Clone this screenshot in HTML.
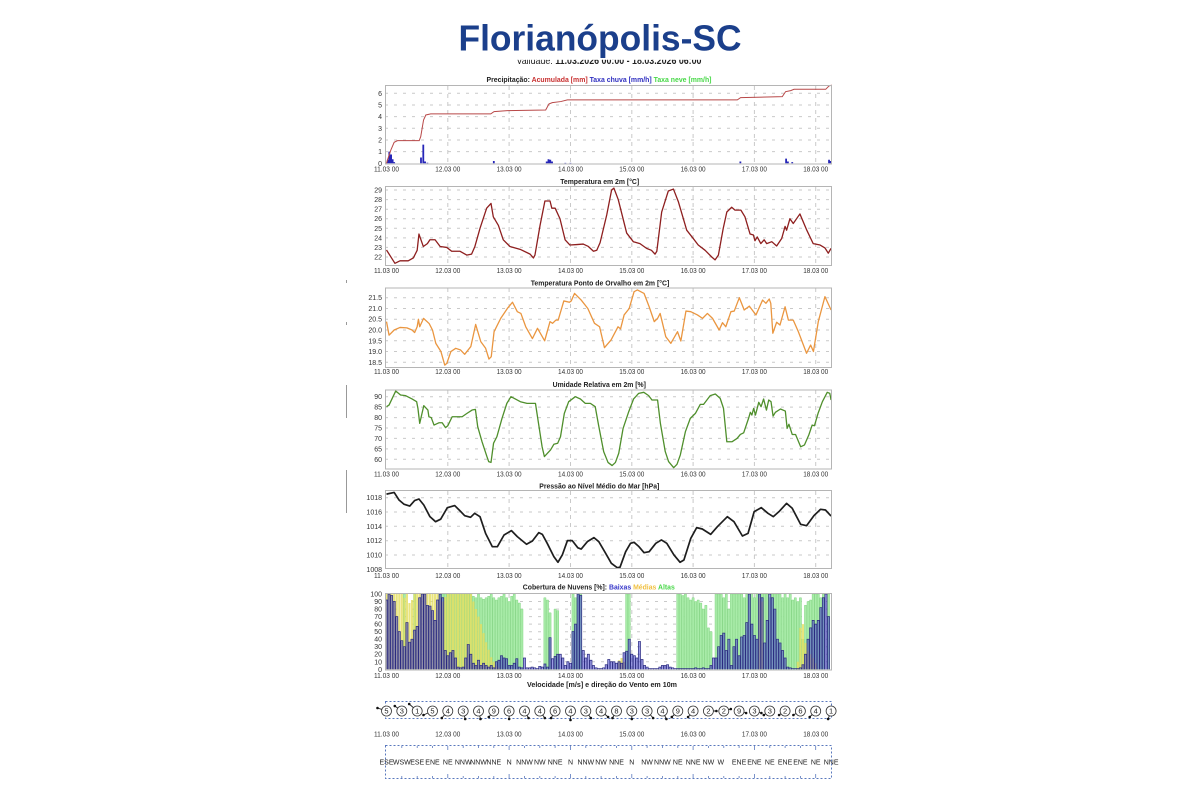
<!DOCTYPE html>
<html><head><meta charset="utf-8"><title>Florianópolis-SC</title>
<style>html,body{margin:0;padding:0;background:#fff}svg{display:block;font-family:"Liberation Sans",sans-serif}</style>
</head><body>
<svg width="1200" height="800" viewBox="0 0 1200 800" xmlns="http://www.w3.org/2000/svg">
<rect width="1200" height="800" fill="#fff"/>
<!-- validity line (partly covered) -->
<text x="609" y="64" text-anchor="middle" font-size="10.5" fill="#222" textLength="185" lengthAdjust="spacingAndGlyphs">Validade: <tspan font-weight="bold">11.03.2026 00:00 - 18.03.2026 06:00</tspan></text>
<rect x="0" y="0" width="1200" height="59.8" fill="#fff"/>
<text x="600" y="50.5" text-anchor="middle" font-size="36" font-weight="bold" fill="#1b3f8b" textLength="283" lengthAdjust="spacingAndGlyphs">Florianópolis-SC</text>

<!-- artifacts left -->
<g stroke="#999" stroke-width="1">
<path d="M346.5 280V283M346.5 322V325M346.5 385V418M346.5 470V513"/>
</g>

<!-- panel titles -->
<g font-size="7.5" font-weight="bold" text-anchor="middle" fill="#222">
<text x="599" y="82" textLength="225" lengthAdjust="spacingAndGlyphs">Precipitação: <tspan fill="#c83030">Acumulada [mm]</tspan> <tspan fill="#3030c0">Taxa chuva [mm/h]</tspan> <tspan fill="#48d848">Taxa neve [mm/h]</tspan></text>
<text x="599.7" y="184" textLength="79" lengthAdjust="spacingAndGlyphs">Temperatura em 2m [°C]</text>
<text x="600" y="285.5" textLength="138.6" lengthAdjust="spacingAndGlyphs">Temperatura Ponto de Orvalho em 2m [°C]</text>
<text x="599.3" y="387" textLength="93.3" lengthAdjust="spacingAndGlyphs">Umidade Relativa em 2m [%]</text>
<text x="599.3" y="488.5" textLength="120" lengthAdjust="spacingAndGlyphs">Pressão ao Nível Médio do Mar [hPa]</text>
<text x="598.8" y="589.5" textLength="152" lengthAdjust="spacingAndGlyphs">Cobertura de Nuvens [%]: <tspan fill="#3535c8">Baixas</tspan> <tspan fill="#f0c040">Médias</tspan> <tspan fill="#48d848">Altas</tspan></text>
<text x="602" y="687" textLength="150" lengthAdjust="spacingAndGlyphs">Velocidade [m/s] e direção do Vento em 10m</text>
</g>

<!-- grids -->
<g stroke="#c9c9c9" stroke-width="1" fill="none" stroke-dasharray="3,6">
<path d="M385 151.6H832M385 140H832M385 128.3H832M385 116.6H832M385 105H832M385 93.3H832"/>
<path d="M385 247.4H832M385 237.9H832M385 228.3H832M385 218.7H832M385 209.2H832M385 199.6H832M385 190H832M385 257H832"/>
<path d="M385 362.3H832M385 351.5H832M385 340.8H832M385 330H832M385 319.2H832M385 308.5H832M385 297.7H832"/>
<path d="M385 459.3H832M385 448.9H832M385 438.4H832M385 428H832M385 417.6H832M385 407.1H832M385 396.7H832"/>
<path d="M385 555H832M385 540.7H832M385 526.3H832M385 512H832M385 497.7H832"/>
<path d="M385 661.8H832M385 654.2H832M385 646.7H832M385 639.2H832M385 631.7H832M385 624.1H832M385 616.6H832M385 609.1H832M385 601.5H832"/>
</g>
<g stroke="#c9c9c9" stroke-width="1" fill="none" stroke-dasharray="4,4">
<path d="M447.8 86V164M509.1 86V164M570.5 86V164M631.8 86V164M693.1 86V164M754.4 86V164M815.7 86V164"/>
<path d="M447.8 187V266M509.1 187V266M570.5 187V266M631.8 187V266M693.1 187V266M754.4 187V266M815.7 187V266"/>
<path d="M447.8 288V368M509.1 288V368M570.5 288V368M631.8 288V368M693.1 288V368M754.4 288V368M815.7 288V368"/>
<path d="M447.8 390V469M509.1 390V469M570.5 390V469M631.8 390V469M693.1 390V469M754.4 390V469M815.7 390V469"/>
<path d="M447.8 491V568M509.1 491V568M570.5 491V568M631.8 491V568M693.1 491V568M754.4 491V568M815.7 491V568"/>
<path d="M447.8 594V670M509.1 594V670M570.5 594V670M631.8 594V670M693.1 594V670M754.4 594V670M815.7 594V670"/>
</g>

<!-- PRECIP data -->
<g transform="matrix(2.555 0 0 -11.67 386.5 163.3)">
<path fill="#2626b8" d="M0.15 0V0.3H0.85V0ZM0.75 0V1.0H1.45V0ZM1.45 0V0.75H2.15V0ZM2.05 0V0.35H2.75V0ZM2.65 0V0.1H3.35V0ZM13.15 0V0.5H13.85V0ZM14.05 0V1.6H14.75V0ZM14.75 0V0.15H15.45V0ZM15.65 0V0.05H16.35V0ZM41.65 0V0.2H42.35V0ZM62.35 0V0.15H63.05V0ZM63.05 0V0.35H63.75V0ZM63.75 0V0.3H64.45V0ZM64.45 0V0.15H65.15V0ZM69.65 0V0.04H70.35V0ZM71.65 0V0.04H72.35V0ZM138.15 0V0.15H138.85V0ZM156.05 0V0.4H156.75V0ZM156.75 0V0.15H157.45V0ZM158.45 0V0.1H159.15V0ZM172.85 0V0.3H173.55V0ZM173.55 0V0.2H174.25V0Z"/>
<polyline vector-effect="non-scaling-stroke" fill="none" stroke="#b84848" stroke-width="1" points="0,0 0.4,0.3 1.7,1.14 3,1.8 4.3,1.94 12.8,1.94 13.4,2.29 14.5,3.71 15.4,4.14 17.3,4.23 40.8,4.23 42.1,4.43 47.3,4.51 62.3,4.57 63.6,5.09 64.9,5.2 68.2,5.29 70.8,5.43 137.3,5.43 138.6,5.63 154.9,5.71 156.2,6.14 158.2,6.23 159.5,6.34 171.9,6.34 173.2,6.63 174.3,6.7"/>
</g>

<!-- TEMP -->
<g transform="matrix(2.555 0 0 -9.57 386.5 467.54)">
<polyline vector-effect="non-scaling-stroke" fill="none" stroke="#8e1f1f" stroke-width="1.3" stroke-linejoin="round" points="0,22.73 1.5,22.1 3.3,21.34 5.3,21.6 8.5,21.6 10.5,21.9 12,22.7 12.7,24.4 14.4,23.1 16,23.4 17,23.8 19,23.8 21,23.1 23.6,23.0 25.5,22.6 28.8,22.6 31.4,22.2 33.3,22.3 34.6,23.1 36.6,25 39.2,27.1 40.9,27.6 41.8,26.2 43.8,25.3 45.7,23.8 48.3,23.1 52.3,22.8 56.2,22.3 57.5,21.9 58.1,22.2 60.1,25.3 62,27.85 64,27.85 64.7,27.1 66,27.1 67.9,26 69.9,23.8 71.8,23.25 74.5,23.3 77,23.35 79,23.1 81,22.6 82.3,22.7 83.6,23.5 86.2,26.4 88.1,29 89,29.2 90.7,28 94,24.5 96.6,23.6 99.2,23.4 101.8,22.9 103.7,22.7 105.1,22.3 105.8,22.6 107.7,26.7 110.3,28.9 112.3,29.1 114.2,27.8 117.5,24.8 120,23.95 122,23.25 124.7,22.7 127.3,22 128.6,21.7 129.9,22.2 131.8,25 133.2,26.7 135.1,27.2 136.4,26.9 138.7,26.9 140.3,26.2 142.3,24.4 143.6,24.3 144.2,23.7 145.1,24.1 146.5,23.4 147.8,23.8 148.8,23.4 150.8,23.6 152.7,23.15 154.7,23.95 156,25.2 156.6,24.8 157.9,26 159.2,25.5 161.8,26.5 164.5,24.8 167,23.4 169.7,23.25 171.6,22.95 172.9,22.4 174,22.9"/>
</g>

<!-- DEW -->
<g transform="matrix(2.555 0 0 -21.53 386.5 760.6)">
<polyline vector-effect="non-scaling-stroke" fill="none" stroke="#ea9640" stroke-width="1.3" stroke-linejoin="round" points="0,20.39 1,19.76 3,20.0 5.3,20.12 8,20.1 10,20.0 11,19.88 12,20.15 12.5,20.5 13,20.15 14.5,20.54 16.7,20.3 18,20.0 19.3,19.38 21.3,19.0 22.8,18.37 23.6,18.45 25.2,19.0 27.1,19.15 29,19.07 30.6,18.87 33,19.23 34.9,20.26 36.9,19.46 38.8,19.15 40.1,18.65 41,18.76 42.1,19.92 44.7,20.54 47.3,21.0 49.3,21.29 51.2,20.85 52.6,20.77 54.5,20.15 57.1,19.6 59.1,20.08 61.9,19.5 64,20.39 65,20.31 66.3,20.46 67.2,20.46 69.4,21.35 71.6,21.29 72.3,21.35 73.6,21.7 76.2,21.39 78.8,21.0 81.4,20.31 83.4,20.15 85.3,19.18 87.9,19.54 90.6,20.15 91.6,20.05 93,20.7 95,21.0 96.9,21.78 98.2,21.86 100.8,21.7 102.8,21.08 104.8,20.39 106.1,20.54 107.1,20.77 109.3,19.69 111.3,19.38 113.9,19.92 115.2,19.49 117.2,20.88 119.1,20.85 121.7,20.7 123.7,20.54 125.6,20.77 127.6,20.54 130.2,20.0 131.5,20.34 132.8,20.15 134.8,20.85 136.1,20.88 138.1,21.5 140,20.93 142,21.11 144.6,20.7 147.2,21.39 148.5,21.24 149.8,21.44 150.4,21.24 151.2,19.85 152.7,20.36 154,20.23 156,21.08 157.3,20.46 159.2,20.46 161.2,19.92 164.4,18.92 166,19.3 167.1,19.0 169,20.39 171.6,21.55 174,20.93"/>
</g>

<!-- HUMIDITY -->
<g transform="matrix(2.555 0 0 -2.087 386.5 584.52)">
<polyline vector-effect="non-scaling-stroke" fill="none" stroke="#4f8f2c" stroke-width="1.3" stroke-linejoin="round" points="0,85.2 1,86 3.6,92.7 5.5,90.8 7.5,90.5 10,88.9 11.8,87.6 12.3,84.4 13,77.2 14.6,85.7 16.2,83.6 16.6,80.4 17.5,80 18.6,76.4 20.5,77.5 21.8,77.5 23.1,75.2 24,76.1 25.7,80.4 29.6,80.4 31.5,82 33.5,83.6 34.8,83.9 35.7,75.6 37.4,68.4 39.3,61.3 40,58.9 40.9,58.5 41.9,67.7 43.2,70.8 45.2,79.6 47.1,86.8 48.7,90 50.4,88.9 52.4,87.6 55,86.8 58.3,86.8 59.6,76.4 60.9,66 61.8,61.3 64.2,64.5 65.5,67.2 67,67.7 68.1,70.8 69.6,82 71.3,87.6 73.9,90 75.9,88.9 77.8,86.8 79.8,86.8 81.7,85.2 83,76.4 85,63.7 86.7,58.5 88.3,57 89.6,58.5 90.9,62.9 92.6,74.8 94.8,82.8 96.7,88.9 98.7,91.6 100.7,92.1 102.6,90.5 103.9,88.4 106.1,88.4 107.2,77.2 109.1,63.7 110.4,58.9 112.4,56 113.7,57.6 115,62.1 117,73.3 118.9,79.6 120.9,82 122.8,86.3 124.1,86.3 126.7,90.5 128.7,91.3 130.6,89.2 131.9,84.4 133.2,68.4 135.2,68.4 137.2,70 138.5,71.9 139.8,72.7 141.7,79.6 142.4,82.5 143,81.2 143.7,84.4 144.4,81.2 145.7,87.3 146.6,85.2 147.6,88.9 148.7,83.6 149.6,88.4 150.5,87.6 151.3,80.7 152.2,82.5 154.2,84.1 156.1,83.1 156.8,74.8 157.5,76.8 158.8,71.9 160.1,71.9 162.1,66 163.6,66.9 165.3,71.7 166.6,76.4 167.5,76.1 168.9,82 170.6,87.6 172.5,92.1 173.5,91.6 174,88.4"/>
</g>

<!-- PRESSURE -->
<g transform="matrix(2.555 0 0 -7.16 386.5 626.58)">
<polyline vector-effect="non-scaling-stroke" fill="none" stroke="#1e1e1e" stroke-width="1.7" stroke-linejoin="round" points="0,18.5 3,18.73 4.9,17.68 6.8,17.1 9.1,16.84 11,17.6 12.7,17.82 14.6,16.98 17,15.35 19.2,14.65 21.2,15.0 23.8,16.6 26.7,16.9 28.7,16.19 30.6,15.49 32.9,15.26 34.5,15.82 36.6,15.35 38.8,13.0 41.4,11.16 43.4,11.16 46,12.79 48.9,13.4 51.2,12.56 54.8,11.5 57.1,11.95 59.6,13.12 61,12.88 62.9,11.63 65.5,9.77 67.1,8.98 68.8,10.0 70.8,12.0 72.7,12.0 74.9,11.0 76.2,10.83 78.6,11.86 81.2,12.42 83.1,11.86 85.4,10.46 88,8.83 90.3,8.22 91.4,8.3 93.6,10.46 95.5,11.63 96.9,11.77 98.8,11.16 100.8,10.32 102.8,10.46 105.4,11.63 107.6,12.1 109.7,11.63 112.5,10.0 114.9,8.98 116.4,9.3 119.1,12.33 121.4,13.82 123.6,13.63 126.9,12.88 129.5,13.95 133.4,15.35 136,14.65 139.3,12.65 141.5,13.02 143.9,16.05 146.7,16.61 149.3,15.82 151.4,15.35 153.6,16.05 156.6,17.21 158.8,16.52 162.1,14.28 164.4,14.09 167.3,15.49 169.9,16.38 171.8,16.28 174,15.44"/>
</g>

<!-- CLOUDS -->
<g transform="matrix(2.555 0 0 -0.753 386.5 669.3)">
<path vector-effect="non-scaling-stroke" fill="#a9eca9" stroke="#86d686" stroke-width="0.5" d="M6.58 0v100h.84v-100M10.58 0v100h.84v-100M20.58 0v100h.84v-100m.16 0v100h.84v-100m.16 0v100h.84v-100m.16 0v100h.84v-100m.16 0v100h.84v-100m.16 0v100h.84v-100m.16 0v100h.84v-100m.16 0v100h.84v-100m.16 0v100h.84v-100m.16 0v100h.84v-100m.16 0v100h.84v-100m.16 0v100h.84v-100m.16 0v100h.84v-100m.16 0v97h.84v-97m.16 0v95h.84v-95m.16 0v100h.84v-100m.16 0v95h.84v-95m.16 0v93h.84v-93m.16 0v95h.84v-95m.16 0v97h.84v-97m.16 0v100h.84v-100m.16 0v95h.84v-95m.16 0v92h.84v-92m.16 0v95h.84v-95m.16 0v97h.84v-97m.16 0v100h.84v-100m.16 0v95h.84v-95m.16 0v90h.84v-90m.16 0v97h.84v-97m.16 0v100h.84v-100m.16 0v92h.84v-92m.16 0v88h.84v-88m.16 0v80h.84v-80M61.58 0v95h.84v-95m.16 0v92h.84v-92m.16 0v75h.84v-75M65.58 0v80h.84v-80m.16 0v78h.84v-78M72.58 0v100h.84v-100m.16 0v95h.84v-95m.16 0v100h.84v-100m.16 0v100h.84v-100M93.58 0v100h.84v-100m.16 0v100h.84v-100M113.58 0v100h.84v-100m.16 0v100h.84v-100m.16 0v98h.84v-98m.16 0v100h.84v-100m.16 0v95h.84v-95m.16 0v92h.84v-92m.16 0v95h.84v-95m.16 0v90h.84v-90m.16 0v92h.84v-92m.16 0v88h.84v-88m.16 0v80h.84v-80m.16 0v85h.84v-85m.16 0v55h.84v-55m.16 0v50h.84v-50M128.58 0v100h.84v-100m.16 0v100h.84v-100m.16 0v100h.84v-100m.16 0v95h.84v-95m.16 0v100h.84v-100m.16 0v80h.84v-80m.16 0v100h.84v-100m.16 0v100h.84v-100m.16 0v100h.84v-100m.16 0v100h.84v-100m.16 0v100h.84v-100m.16 0v95h.84v-95m.16 0v100h.84v-100m.16 0v100h.84v-100m.16 0v100h.84v-100m.16 0v95h.84v-95m.16 0v100h.84v-100m.16 0v100h.84v-100m.16 0v100h.84v-100m.16 0v100h.84v-100m.16 0v100h.84v-100m.16 0v95h.84v-95m.16 0v100h.84v-100m.16 0v100h.84v-100m.16 0v100h.84v-100m.16 0v100h.84v-100m.16 0v95h.84v-95m.16 0v100h.84v-100m.16 0v95h.84v-95m.16 0v100h.84v-100m.16 0v92h.84v-92m.16 0v95h.84v-95m.16 0v90h.84v-90m.16 0v95h.84v-95m.16 0v40h.84v-40m.16 0v85h.84v-85m.16 0v90h.84v-90m.16 0v92h.84v-92m.16 0v100h.84v-100m.16 0v100h.84v-100m.16 0v100h.84v-100m.16 0v95h.84v-95m.16 0v100h.84v-100M172.58 0v100h.84v-100"/>
<path vector-effect="non-scaling-stroke" fill="rgba(228,222,96,0.82)" stroke="none" d="M-.42 0v100h.84v-100m.16 0v100h.84v-100m.16 0v100h.84v-100m.16 0v100h.84v-100m.16 0v100h.84v-100m.16 0v100h.84v-100m.16 0v100h.84v-100m.16 0v95h.84v-95m.16 0v100h.84v-100m.16 0v88h.84v-88m.16 0v92h.84v-92m.16 0v100h.84v-100m.16 0v100h.84v-100m.16 0v100h.84v-100m.16 0v100h.84v-100m.16 0v100h.84v-100m.16 0v100h.84v-100m.16 0v100h.84v-100m.16 0v100h.84v-100m.16 0v100h.84v-100m.16 0v100h.84v-100m.16 0v95h.84v-95m.16 0v90h.84v-90m.16 0v96h.84v-96m.16 0v100h.84v-100m.16 0v100h.84v-100m.16 0v100h.84v-100m.16 0v100h.84v-100m.16 0v100h.84v-100m.16 0v100h.84v-100m.16 0v100h.84v-100m.16 0v100h.84v-100m.16 0v100h.84v-100m.16 0v100h.84v-100m.16 0v90h.84v-90m.16 0v80h.84v-80m.16 0v70h.84v-70m.16 0v60h.84v-60m.16 0v48h.84v-48m.16 0v36h.84v-36m.16 0v26h.84v-26m.16 0v16h.84v-16m.16 0v10h.84v-10m.16 0v5h.84v-5m.16 0v2h.84v-2M90.58 0v12h.84v-12M91.58 0v15h.84v-15M92.58 0v10h.84v-10M145.58 0v95h.84v-95M146.58 0v90h.84v-90M160.58 0v10h.84v-10M161.58 0v55h.84v-55M162.58 0v60h.84v-60M163.58 0v35h.84v-35M164.58 0v25h.84v-25M165.58 0v20h.84v-20M166.58 0v15h.84v-15M167.58 0v8h.84v-8"/>
<path vector-effect="non-scaling-stroke" fill="rgba(72,72,205,0.55)" stroke="#2b2b80" stroke-width="0.7" d="M-.42 0v92h.84v-92m.16 0v100h.84v-100m.16 0v98h.84v-98m.16 0v90h.84v-90m.16 0v70h.84v-70m.16 0v50h.84v-50m.16 0v38h.84v-38m.16 0v30h.84v-30m.16 0v62h.84v-62m.16 0v36h.84v-36m.16 0v40h.84v-40m.16 0v52h.84v-52m.16 0v57h.84v-57m.16 0v95h.84v-95m.16 0v100h.84v-100m.16 0v100h.84v-100m.16 0v85h.84v-85m.16 0v84h.84v-84m.16 0v78h.84v-78m.16 0v65h.84v-65m.16 0v92h.84v-92m.16 0v100h.84v-100m.16 0v95h.84v-95m.16 0v25h.84v-25m.16 0v18h.84v-18m.16 0v22h.84v-22m.16 0v25h.84v-25m.16 0v15h.84v-15m.16 0v3h.84v-3m.16 0v2h.84v-2m.16 0v3h.84v-3m.16 0v15h.84v-15m.16 0v33h.84v-33m.16 0v20h.84v-20m.16 0v8h.84v-8m.16 0v5h.84v-5m.16 0v12h.84v-12m.16 0v5h.84v-5m.16 0v8h.84v-8m.16 0v5h.84v-5m.16 0v3h.84v-3m.16 0v5h.84v-5m.16 0v2h.84v-2m.16 0v10h.84v-10m.16 0v12h.84v-12m.16 0v18h.84v-18m.16 0v15h.84v-15m.16 0v14h.84v-14m.16 0v5h.84v-5m.16 0v5h.84v-5m.16 0v8h.84v-8m.16 0v14h.84v-14m.16 0v3h.84v-3m.16 0v2h.84v-2m.16 0v15h.84v-15m.16 0v2h.84v-2m.16 0v2h.84v-2m.16 0v3h.84v-3m.16 0v2h.84v-2m.16 0v1h.84v-1m.16 0v4h.84v-4m.16 0v3h.84v-3m.16 0v7h.84v-7m.16 0v3h.84v-3m.16 0v42h.84v-42m.16 0v14h.84v-14m.16 0v17h.84v-17m.16 0v20h.84v-20m.16 0v20h.84v-20m.16 0v15h.84v-15m.16 0v5h.84v-5m.16 0v10h.84v-10m.16 0v8h.84v-8m.16 0v50h.84v-50m.16 0v60h.84v-60m.16 0v100h.84v-100m.16 0v98h.84v-98m.16 0v25h.84v-25m.16 0v15h.84v-15m.16 0v20h.84v-20m.16 0v12h.84v-12m.16 0v5h.84v-5m.16 0v2h.84v-2m.16 0v1h.84v-1m.16 0v1h.84v-1m.16 0v2h.84v-2m.16 0v6h.84v-6m.16 0v13h.84v-13m.16 0v10h.84v-10m.16 0v10h.84v-10m.16 0v8h.84v-8m.16 0v10h.84v-10m.16 0v8h.84v-8m.16 0v22h.84v-22m.16 0v24h.84v-24m.16 0v40h.84v-40m.16 0v20h.84v-20m.16 0v18h.84v-18m.16 0v15h.84v-15m.16 0v37h.84v-37m.16 0v13h.84v-13m.16 0v5h.84v-5m.16 0v3h.84v-3m.16 0v1h.84v-1m.16 0v1h.84v-1m.16 0v1h.84v-1m.16 0v1h.84v-1m.16 0v3h.84v-3m.16 0v5h.84v-5m.16 0v5h.84v-5m.16 0v6h.84v-6m.16 0v3h.84v-3m.16 0v2h.84v-2m.16 0v1h.84v-1m.16 0v1h.84v-1m.16 0v1h.84v-1m.16 0v1h.84v-1m.16 0v1h.84v-1m.16 0v1h.84v-1m.16 0v1h.84v-1m.16 0v1h.84v-1m.16 0v2h.84v-2m.16 0v1h.84v-1m.16 0v1h.84v-1m.16 0v2h.84v-2m.16 0v1h.84v-1m.16 0v1h.84v-1m.16 0v5h.84v-5m.16 0v15h.84v-15m.16 0v15h.84v-15m.16 0v30h.84v-30m.16 0v45h.84v-45m.16 0v48h.84v-48m.16 0v25h.84v-25m.16 0v40h.84v-40m.16 0v5h.84v-5m.16 0v30h.84v-30m.16 0v40h.84v-40m.16 0v18h.84v-18m.16 0v43h.84v-43m.16 0v45h.84v-45m.16 0v62h.84v-62m.16 0v100h.84v-100m.16 0v60h.84v-60m.16 0v45h.84v-45m.16 0v40h.84v-40m.16 0v100h.84v-100m.16 0v95h.84v-95m.16 0v35h.84v-35m.16 0v65h.84v-65m.16 0v100h.84v-100m.16 0v95h.84v-95m.16 0v80h.84v-80m.16 0v40h.84v-40m.16 0v35h.84v-35m.16 0v25h.84v-25m.16 0v15h.84v-15m.16 0v3h.84v-3m.16 0v2h.84v-2m.16 0v1h.84v-1m.16 0v1h.84v-1m.16 0v1h.84v-1m.16 0v2h.84v-2m.16 0v6h.84v-6m.16 0v20h.84v-20m.16 0v40h.84v-40m.16 0v55h.84v-55m.16 0v65h.84v-65m.16 0v60h.84v-60m.16 0v65h.84v-65m.16 0v82h.84v-82m.16 0v95h.84v-95m.16 0v100h.84v-100m.16 0v70h.84v-70"/>
</g>

<!-- frames -->
<g fill="none" stroke="#b5b5b5" stroke-width="1">
<rect x="385.5" y="85.5" width="446" height="78.5"/>
<rect x="385.5" y="186.5" width="446" height="79"/>
<rect x="385.5" y="288" width="446" height="79.5"/>
<rect x="385.5" y="390" width="446" height="79"/>
<rect x="385.5" y="490.5" width="446" height="78"/>
<rect x="385.5" y="593.5" width="446" height="76.5"/>
</g>

<!-- y tick labels -->
<g font-size="7" fill="#333" text-anchor="end">
<text x="382" y="165.8">0</text><text x="382" y="154.1">1</text><text x="382" y="142.5">2</text><text x="382" y="130.8">3</text><text x="382" y="119.1">4</text><text x="382" y="107.5">5</text><text x="382" y="95.8">6</text>
<text x="382" y="259.5">22</text><text x="382" y="249.9">23</text><text x="382" y="240.4">24</text><text x="382" y="230.8">25</text><text x="382" y="221.2">26</text><text x="382" y="211.7">27</text><text x="382" y="202.1">28</text><text x="382" y="192.5">29</text>
<text x="382" y="364.8">18.5</text><text x="382" y="354">19.0</text><text x="382" y="343.3">19.5</text><text x="382" y="332.5">20.0</text><text x="382" y="321.7">20.5</text><text x="382" y="311">21.0</text><text x="382" y="300.2">21.5</text>
<text x="382" y="461.8">60</text><text x="382" y="451.4">65</text><text x="382" y="440.9">70</text><text x="382" y="430.5">75</text><text x="382" y="420.1">80</text><text x="382" y="409.6">85</text><text x="382" y="399.2">90</text>
<text x="382" y="571.8">1008</text><text x="382" y="557.5">1010</text><text x="382" y="543.2">1012</text><text x="382" y="528.8">1014</text><text x="382" y="514.5">1016</text><text x="382" y="500.2">1018</text>
<text x="382" y="671.8">0</text><text x="382" y="664.3">10</text><text x="382" y="656.7">20</text><text x="382" y="649.2">30</text><text x="382" y="641.7">40</text><text x="382" y="634.2">50</text><text x="382" y="626.6">60</text><text x="382" y="619.1">70</text><text x="382" y="611.6">80</text><text x="382" y="604">90</text><text x="382" y="596.5">100</text>
</g>

<!-- x tick labels -->
<g font-size="7" fill="#333" text-anchor="middle">
<g transform="translate(0,171.5)"><text x="386.5" textLength="25" lengthAdjust="spacingAndGlyphs">11.03 00</text><text x="447.8" textLength="25" lengthAdjust="spacingAndGlyphs">12.03 00</text><text x="509.1" textLength="25" lengthAdjust="spacingAndGlyphs">13.03 00</text><text x="570.5" textLength="25" lengthAdjust="spacingAndGlyphs">14.03 00</text><text x="631.8" textLength="25" lengthAdjust="spacingAndGlyphs">15.03 00</text><text x="693.1" textLength="25" lengthAdjust="spacingAndGlyphs">16.03 00</text><text x="754.4" textLength="25" lengthAdjust="spacingAndGlyphs">17.03 00</text><text x="815.7" textLength="25" lengthAdjust="spacingAndGlyphs">18.03 00</text></g>
<g transform="translate(0,273)"><text x="386.5" textLength="25" lengthAdjust="spacingAndGlyphs">11.03 00</text><text x="447.8" textLength="25" lengthAdjust="spacingAndGlyphs">12.03 00</text><text x="509.1" textLength="25" lengthAdjust="spacingAndGlyphs">13.03 00</text><text x="570.5" textLength="25" lengthAdjust="spacingAndGlyphs">14.03 00</text><text x="631.8" textLength="25" lengthAdjust="spacingAndGlyphs">15.03 00</text><text x="693.1" textLength="25" lengthAdjust="spacingAndGlyphs">16.03 00</text><text x="754.4" textLength="25" lengthAdjust="spacingAndGlyphs">17.03 00</text><text x="815.7" textLength="25" lengthAdjust="spacingAndGlyphs">18.03 00</text></g>
<g transform="translate(0,374)"><text x="386.5" textLength="25" lengthAdjust="spacingAndGlyphs">11.03 00</text><text x="447.8" textLength="25" lengthAdjust="spacingAndGlyphs">12.03 00</text><text x="509.1" textLength="25" lengthAdjust="spacingAndGlyphs">13.03 00</text><text x="570.5" textLength="25" lengthAdjust="spacingAndGlyphs">14.03 00</text><text x="631.8" textLength="25" lengthAdjust="spacingAndGlyphs">15.03 00</text><text x="693.1" textLength="25" lengthAdjust="spacingAndGlyphs">16.03 00</text><text x="754.4" textLength="25" lengthAdjust="spacingAndGlyphs">17.03 00</text><text x="815.7" textLength="25" lengthAdjust="spacingAndGlyphs">18.03 00</text></g>
<g transform="translate(0,476.5)"><text x="386.5" textLength="25" lengthAdjust="spacingAndGlyphs">11.03 00</text><text x="447.8" textLength="25" lengthAdjust="spacingAndGlyphs">12.03 00</text><text x="509.1" textLength="25" lengthAdjust="spacingAndGlyphs">13.03 00</text><text x="570.5" textLength="25" lengthAdjust="spacingAndGlyphs">14.03 00</text><text x="631.8" textLength="25" lengthAdjust="spacingAndGlyphs">15.03 00</text><text x="693.1" textLength="25" lengthAdjust="spacingAndGlyphs">16.03 00</text><text x="754.4" textLength="25" lengthAdjust="spacingAndGlyphs">17.03 00</text><text x="815.7" textLength="25" lengthAdjust="spacingAndGlyphs">18.03 00</text></g>
<g transform="translate(0,578)"><text x="386.5" textLength="25" lengthAdjust="spacingAndGlyphs">11.03 00</text><text x="447.8" textLength="25" lengthAdjust="spacingAndGlyphs">12.03 00</text><text x="509.1" textLength="25" lengthAdjust="spacingAndGlyphs">13.03 00</text><text x="570.5" textLength="25" lengthAdjust="spacingAndGlyphs">14.03 00</text><text x="631.8" textLength="25" lengthAdjust="spacingAndGlyphs">15.03 00</text><text x="693.1" textLength="25" lengthAdjust="spacingAndGlyphs">16.03 00</text><text x="754.4" textLength="25" lengthAdjust="spacingAndGlyphs">17.03 00</text><text x="815.7" textLength="25" lengthAdjust="spacingAndGlyphs">18.03 00</text></g>
<g transform="translate(0,678)"><text x="386.5" textLength="25" lengthAdjust="spacingAndGlyphs">11.03 00</text><text x="447.8" textLength="25" lengthAdjust="spacingAndGlyphs">12.03 00</text><text x="509.1" textLength="25" lengthAdjust="spacingAndGlyphs">13.03 00</text><text x="570.5" textLength="25" lengthAdjust="spacingAndGlyphs">14.03 00</text><text x="631.8" textLength="25" lengthAdjust="spacingAndGlyphs">15.03 00</text><text x="693.1" textLength="25" lengthAdjust="spacingAndGlyphs">16.03 00</text><text x="754.4" textLength="25" lengthAdjust="spacingAndGlyphs">17.03 00</text><text x="815.7" textLength="25" lengthAdjust="spacingAndGlyphs">18.03 00</text></g>
<g transform="translate(0,736.5)"><text x="386.5" textLength="25" lengthAdjust="spacingAndGlyphs">11.03 00</text><text x="447.8" textLength="25" lengthAdjust="spacingAndGlyphs">12.03 00</text><text x="509.1" textLength="25" lengthAdjust="spacingAndGlyphs">13.03 00</text><text x="570.5" textLength="25" lengthAdjust="spacingAndGlyphs">14.03 00</text><text x="631.8" textLength="25" lengthAdjust="spacingAndGlyphs">15.03 00</text><text x="693.1" textLength="25" lengthAdjust="spacingAndGlyphs">16.03 00</text><text x="754.4" textLength="25" lengthAdjust="spacingAndGlyphs">17.03 00</text><text x="815.7" textLength="25" lengthAdjust="spacingAndGlyphs">18.03 00</text></g>
</g>

<!-- WIND -->
<rect x="385.5" y="701.5" width="446" height="17" fill="none" stroke="#5a78bd" stroke-width="1" stroke-dasharray="2,2"/>
<g stroke="#222" stroke-width="0.9" fill="none">
<path d="M386.5 711l-9 -3M401.8 711l-7 -5M417.2 711l-8 -7M432.5 711l-9 4M447.8 711l-6 7M463.2 711l2 8M478.5 711l2 8M493.8 711l-5 6M509.1 711l0 8M524.5 711l4 7M539.8 711l5 7M555.1 711l-4 7M570.5 711l0 9M585.8 711l5 7M601.1 711l7 6M616.5 711l-4 7M631.8 711l0 8M647.1 711l6 7M662.4 711l4 8M677.8 711l-6 6M693.1 711l-5 6M708.4 711l8 0M723.8 711l7 -2M739.1 711l7 2M754.4 711l7 2M769.8 711l-6 4M785.1 711l-6 4M800.4 711l-7 4M815.7 711l-6 6M831.1 711l-3 8"/>
</g>
<g fill="#111">
<circle cx="377.5" cy="708" r="1.3"/><circle cx="394.8" cy="706" r="1.3"/><circle cx="409.2" cy="704" r="1.3"/><circle cx="423.5" cy="715" r="1.3"/><circle cx="441.8" cy="718" r="1.3"/><circle cx="465.2" cy="719" r="1.3"/><circle cx="480.5" cy="719" r="1.3"/><circle cx="488.8" cy="717" r="1.3"/><circle cx="509.1" cy="719" r="1.3"/><circle cx="528.5" cy="718" r="1.3"/><circle cx="544.8" cy="718" r="1.3"/><circle cx="551.1" cy="718" r="1.3"/><circle cx="570.5" cy="720" r="1.3"/><circle cx="590.8" cy="718" r="1.3"/><circle cx="608.1" cy="717" r="1.3"/><circle cx="612.5" cy="718" r="1.3"/><circle cx="631.8" cy="719" r="1.3"/><circle cx="653.1" cy="718" r="1.3"/><circle cx="666.4" cy="719" r="1.3"/><circle cx="671.8" cy="717" r="1.3"/><circle cx="688.1" cy="717" r="1.3"/><circle cx="716.4" cy="711" r="1.3"/><circle cx="730.8" cy="709" r="1.3"/><circle cx="746.1" cy="713" r="1.3"/><circle cx="761.4" cy="713" r="1.3"/><circle cx="763.8" cy="715" r="1.3"/><circle cx="779.1" cy="715" r="1.3"/><circle cx="793.4" cy="715" r="1.3"/><circle cx="809.7" cy="717" r="1.3"/><circle cx="828.1" cy="719" r="1.3"/>
</g>
<g fill="#fff" stroke="#333" stroke-width="0.8">
<circle cx="386.5" cy="711" r="5"/><circle cx="401.8" cy="711" r="5"/><circle cx="417.2" cy="711" r="5"/><circle cx="432.5" cy="711" r="5"/><circle cx="447.8" cy="711" r="5"/><circle cx="463.2" cy="711" r="5"/><circle cx="478.5" cy="711" r="5"/><circle cx="493.8" cy="711" r="5"/><circle cx="509.1" cy="711" r="5"/><circle cx="524.5" cy="711" r="5"/><circle cx="539.8" cy="711" r="5"/><circle cx="555.1" cy="711" r="5"/><circle cx="570.5" cy="711" r="5"/><circle cx="585.8" cy="711" r="5"/><circle cx="601.1" cy="711" r="5"/><circle cx="616.5" cy="711" r="5"/><circle cx="631.8" cy="711" r="5"/><circle cx="647.1" cy="711" r="5"/><circle cx="662.4" cy="711" r="5"/><circle cx="677.8" cy="711" r="5"/><circle cx="693.1" cy="711" r="5"/><circle cx="708.4" cy="711" r="5"/><circle cx="723.8" cy="711" r="5"/><circle cx="739.1" cy="711" r="5"/><circle cx="754.4" cy="711" r="5"/><circle cx="769.8" cy="711" r="5"/><circle cx="785.1" cy="711" r="5"/><circle cx="800.4" cy="711" r="5"/><circle cx="815.7" cy="711" r="5"/><circle cx="831.1" cy="711" r="5"/>
</g>
<g font-size="7.5" fill="#222" text-anchor="middle">
<text x="386.5" y="713.7">5</text><text x="401.8" y="713.7">3</text><text x="417.2" y="713.7">1</text><text x="432.5" y="713.7">5</text><text x="447.8" y="713.7">4</text><text x="463.2" y="713.7">3</text><text x="478.5" y="713.7">4</text><text x="493.8" y="713.7">9</text><text x="509.1" y="713.7">6</text><text x="524.5" y="713.7">4</text><text x="539.8" y="713.7">4</text><text x="555.1" y="713.7">6</text><text x="570.5" y="713.7">4</text><text x="585.8" y="713.7">3</text><text x="601.1" y="713.7">4</text><text x="616.5" y="713.7">8</text><text x="631.8" y="713.7">3</text><text x="647.1" y="713.7">3</text><text x="662.4" y="713.7">4</text><text x="677.8" y="713.7">9</text><text x="693.1" y="713.7">4</text><text x="708.4" y="713.7">2</text><text x="723.8" y="713.7">2</text><text x="739.1" y="713.7">9</text><text x="754.4" y="713.7">3</text><text x="769.8" y="713.7">3</text><text x="785.1" y="713.7">2</text><text x="800.4" y="713.7">6</text><text x="815.7" y="713.7">4</text><text x="831.1" y="713.7">1</text>
</g>

<!-- direction box -->
<rect x="385.5" y="745.5" width="446" height="33" fill="none" stroke="#5a78bd" stroke-width="1" stroke-dasharray="2,2"/>
<g stroke="#5a78bd" stroke-width="0.8">
<path d="M401.8 746v2M417.2 746v2M432.5 746v2M447.8 746v4M463.2 746v2M478.5 746v2M493.8 746v2M509.1 746v4M524.5 746v2M539.8 746v2M555.1 746v2M570.5 746v4M585.8 746v2M601.1 746v2M616.5 746v2M631.8 746v4M647.1 746v2M662.4 746v2M677.8 746v2M693.1 746v4M708.4 746v2M723.8 746v2M739.1 746v2M754.4 746v4M769.8 746v2M785.1 746v2M800.4 746v2M815.7 746v4"/>
<path d="M401.8 778v-2M417.2 778v-2M432.5 778v-2M447.8 778v-4M463.2 778v-2M478.5 778v-2M493.8 778v-2M509.1 778v-4M524.5 778v-2M539.8 778v-2M555.1 778v-2M570.5 778v-4M585.8 778v-2M601.1 778v-2M616.5 778v-2M631.8 778v-4M647.1 778v-2M662.4 778v-2M677.8 778v-2M693.1 778v-4M708.4 778v-2M723.8 778v-2M739.1 778v-2M754.4 778v-4M769.8 778v-2M785.1 778v-2M800.4 778v-2M815.7 778v-4"/>
</g>
<g font-size="7" fill="#222" text-anchor="middle">
<text x="386.5" y="764.5">ESE</text><text x="401.8" y="764.5">WSW</text><text x="417.2" y="764.5">ESE</text><text x="432.5" y="764.5">ENE</text><text x="447.8" y="764.5">NE</text><text x="463.2" y="764.5">NNW</text><text x="478.5" y="764.5">NNW</text><text x="493.8" y="764.5">NNE</text><text x="509.1" y="764.5">N</text><text x="524.5" y="764.5">NNW</text><text x="539.8" y="764.5">NW</text><text x="555.1" y="764.5">NNE</text><text x="570.5" y="764.5">N</text><text x="585.8" y="764.5">NNW</text><text x="601.1" y="764.5">NW</text><text x="616.5" y="764.5">NNE</text><text x="631.8" y="764.5">N</text><text x="647.1" y="764.5">NW</text><text x="662.4" y="764.5">NNW</text><text x="677.8" y="764.5">NE</text><text x="693.1" y="764.5">NNE</text><text x="708.4" y="764.5">NW</text><text x="720.8" y="764.5">W</text><text x="739.1" y="764.5">ENE</text><text x="754.4" y="764.5">ENE</text><text x="769.8" y="764.5">NE</text><text x="785.1" y="764.5">ENE</text><text x="800.4" y="764.5">ENE</text><text x="815.7" y="764.5">NE</text><text x="831.1" y="764.5">NNE</text>
</g>
</svg>
</body></html>
